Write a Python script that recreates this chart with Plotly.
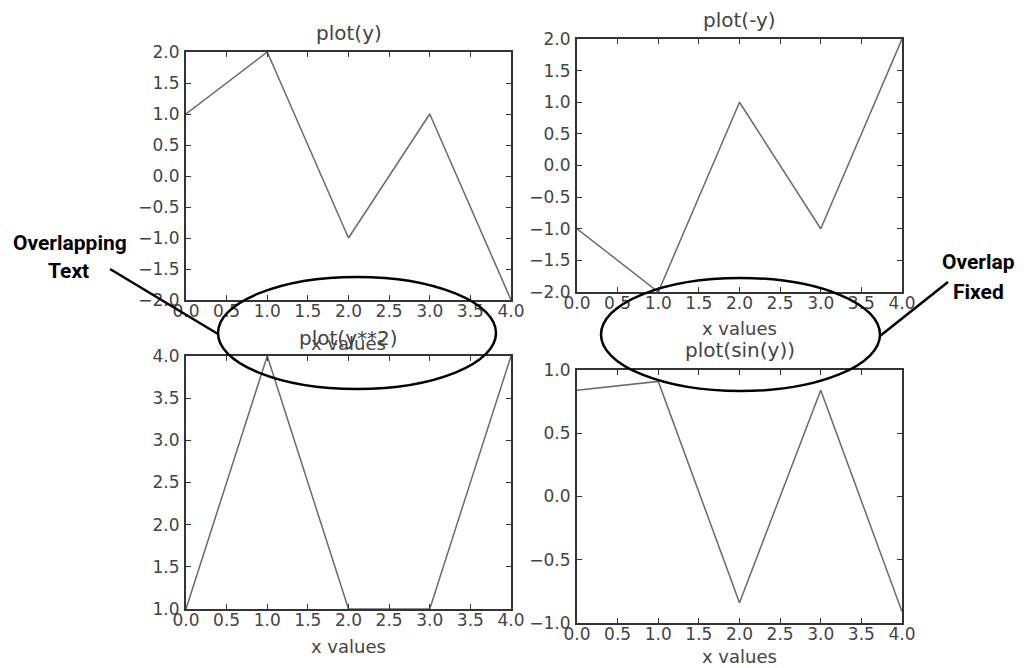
import plotly.graph_objects as go

# the page body adds an 8px margin, so the figure is drawn that much smaller
OFF = 8
W, H = 1025 - OFF, 668 - OFF

# data
x = [0, 1, 2, 3, 4]
y_plain = [1, 2, -1, 1, -2]
y_neg = [-1, -2, 1, -1, 2]
y_sq = [1, 4, 1, 1, 4]
y_sin = [0.84, 0.91, -0.84, 0.84, -0.91]

titles = ["plot(y)", "plot(-y)", "plot(y**2)", "plot(sin(y))"]
series = [y_plain, y_neg, y_sq, y_sin]
y_ranges = [[-2, 2], [-2, 2], [1, 4], [-1, 1]]


def px(v):
    return (v - OFF) / W


def py(v):
    return 1 - (v - OFF) / H


# plot boxes in screen pixels: left, top, right, bottom
boxes = [(186, 52, 511, 300), (577, 39, 902, 292), (186, 356, 511, 609), (577, 370, 902, 623)]
title_y = [33, 20, 338, 350]
label_y = [344, 328, 646, 656]

txt = "#444444"
fig = go.Figure()

for i, (ys, box) in enumerate(zip(series, boxes)):
    n = "" if i == 0 else str(i + 1)
    l, t, r, b = box
    fig.add_trace(go.Scatter(x=x, y=ys, mode="lines", line=dict(color="#6a6a6a", width=1.5),
                             xaxis="x" + n, yaxis="y" + n, showlegend=False))
    ax = dict(showline=True, linewidth=2, linecolor="#333333", mirror="allticks", ticks="inside",
              ticklen=5, tickwidth=1, tickcolor="#333333", showgrid=False, zeroline=False,
              tickfont=dict(family="DejaVu Sans", size=17, color=txt), tickformat=".1f",
              fixedrange=True, automargin=False)
    fig.layout["xaxis" + n] = dict(ax, domain=[px(l), px(r)], range=[0, 4], dtick=0.5,
                                   anchor="y" + n, ticklabelstandoff=-5)
    fig.layout["yaxis" + n] = dict(ax, domain=[py(b), py(t)], range=y_ranges[i], dtick=0.5,
                                   anchor="x" + n, ticklabelstandoff=1)
    cx = px((l + r) / 2)
    fig.add_annotation(x=cx, y=py(title_y[i]), xref="paper", yref="paper", text=titles[i],
                       xanchor="center", yanchor="middle", showarrow=False,
                       font=dict(family="DejaVu Sans", size=20, color=txt))
    fig.add_annotation(x=cx, y=py(label_y[i]), xref="paper", yref="paper", text="x values",
                       xanchor="center", yanchor="middle", showarrow=False,
                       font=dict(family="DejaVu Sans", size=18, color=txt))

# callout ellipses and leader lines
fig.add_shape(type="circle", xref="paper", yref="paper", x0=px(218), x1=px(496), y0=py(277), y1=py(389),
              line=dict(color="black", width=2.5))
fig.add_shape(type="circle", xref="paper", yref="paper", x0=px(601), x1=px(880), y0=py(278), y1=py(391),
              line=dict(color="black", width=2.5))
fig.add_shape(type="line", xref="paper", yref="paper", x0=px(110), y0=py(269), x1=px(218), y1=py(334),
              line=dict(color="black", width=2.5))
fig.add_shape(type="line", xref="paper", yref="paper", x0=px(948), y0=py(282), x1=px(880), y1=py(336),
              line=dict(color="black", width=2.5))

callout_font = dict(family="Roboto, sans-serif", size=21, color="black")
for text, cx, cy in [("<b>Overlapping</b>", 70, 243), ("<b>Text</b>", 68, 271),
                     ("<b>Overlap</b>", 978, 262), ("<b>Fixed</b>", 978, 292)]:
    fig.add_annotation(x=px(cx), y=py(cy), xref="paper", yref="paper", text=text,
                       xanchor="center", yanchor="middle", showarrow=False, font=callout_font)

fig.update_layout(width=W, height=H, margin=dict(l=0, r=0, t=0, b=0, autoexpand=False),
                  plot_bgcolor="white", paper_bgcolor="white")

fig.write_html("out.html")
